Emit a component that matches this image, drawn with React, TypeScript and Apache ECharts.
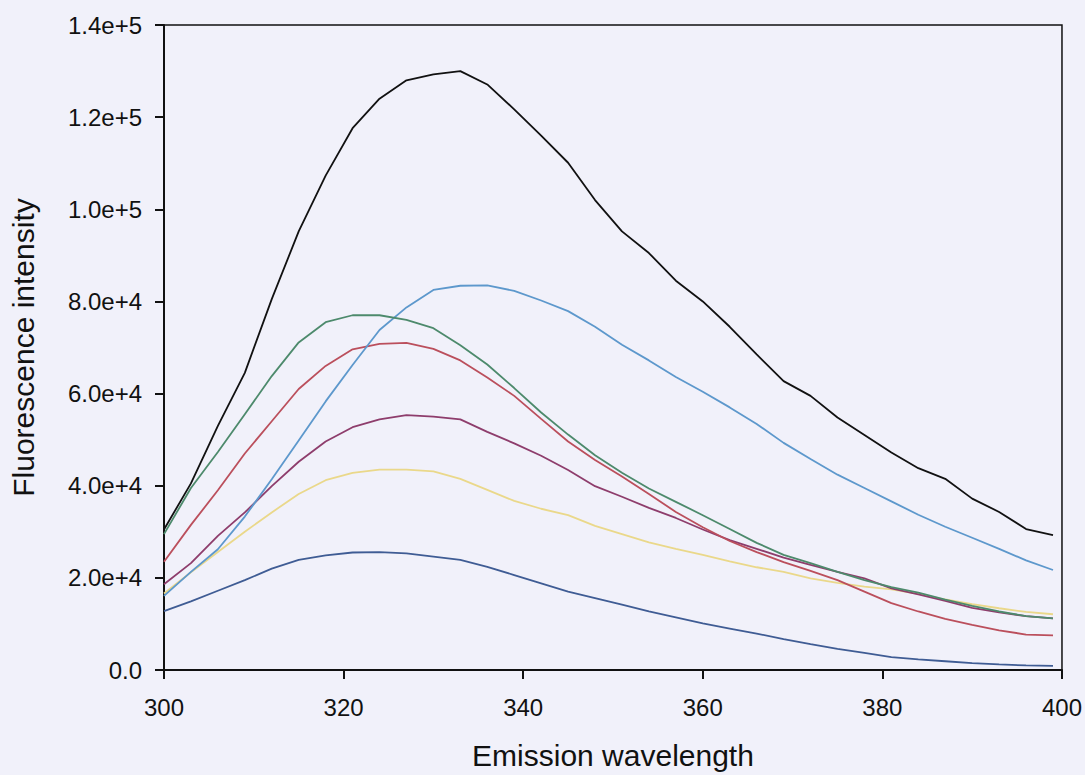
import React, { useEffect, useRef } from "react";
import * as echarts from "echarts";

// Emission wavelength (nm)
const wavelengths = [300, 303, 306, 309, 312, 315, 318, 321, 324, 327, 330, 333, 336, 339, 342, 345, 348, 351, 354, 357, 360, 363, 366, 369, 372, 375, 378, 381, 384, 387, 390, 393, 396, 399];

// Fluorescence intensity, in thousands of counts
const blackSeries = [30.5, 40.5, 53, 64.5, 80.5, 95.2, 107.3, 117.6, 124, 128, 129.3, 130, 127.1, 121.7, 116, 110.1, 102, 95.2, 90.5, 84.5, 80, 74.5, 68.5, 62.7, 59.5, 54.8, 51, 47.2, 43.8, 41.5, 37.2, 34.3, 30.6, 29.3];
const lightBlueSeries = [16.1, 21.3, 26.2, 33.3, 41.4, 49.8, 58.3, 66.2, 73.8, 78.7, 82.5, 83.4, 83.5, 82.3, 80.2, 77.9, 74.5, 70.6, 67.2, 63.6, 60.4, 57, 53.4, 49.3, 45.8, 42.4, 39.5, 36.6, 33.7, 31.1, 28.7, 26.3, 23.8, 21.7];
const greenSeries = [29.5, 39.5, 47.3, 55.5, 63.8, 71.1, 75.5, 77, 77, 76, 74.2, 70.5, 66.3, 61.2, 55.9, 51.1, 46.6, 42.8, 39.4, 36.5, 33.6, 30.6, 27.6, 25, 23.2, 21.3, 19.5, 18, 16.8, 15.3, 13.9, 12.7, 11.7, 11.2];
const redSeries = [23.5, 31.5, 39, 47, 54, 61, 66, 69.6, 70.8, 71, 69.7, 67.2, 63.5, 59.5, 54.5, 49.6, 45.6, 42, 38.2, 34.3, 31, 28, 25.6, 23.4, 21.5, 19.5, 17, 14.5, 12.7, 11.1, 9.8, 8.6, 7.7, 7.5];
const magentaSeries = [18.6, 23.2, 29.1, 34.2, 39.9, 45.2, 49.6, 52.7, 54.4, 55.3, 55, 54.4, 51.7, 49.2, 46.5, 43.4, 39.9, 37.6, 35.2, 33, 30.5, 28.2, 26.3, 24.4, 22.8, 21.3, 19.9, 17.7, 16.4, 15, 13.5, 12.5, 11.7, 11.2];
const yellowSeries = [16.6, 21.2, 25.6, 30, 34.2, 38.2, 41.2, 42.8, 43.5, 43.5, 43.1, 41.5, 39.1, 36.7, 35, 33.6, 31.3, 29.5, 27.7, 26.3, 25, 23.6, 22.3, 21.3, 19.9, 18.9, 18.1, 17.5, 16.5, 15.3, 14.3, 13.4, 12.6, 12.1];
const darkBlueSeries = [12.8, 14.9, 17.2, 19.5, 22, 23.9, 24.9, 25.5, 25.6, 25.3, 24.6, 23.9, 22.4, 20.6, 18.8, 17, 15.6, 14.2, 12.7, 11.4, 10.1, 9, 7.9, 6.7, 5.6, 4.6, 3.7, 2.8, 2.3, 1.9, 1.5, 1.2, 1.0, 0.9];

const seriesList = [
  { name: "s7", values: darkBlueSeries, color: "#3f5c94" },
  { name: "s6", values: yellowSeries, color: "#ead88a" },
  { name: "s5", values: magentaSeries, color: "#8e3d6c" },
  { name: "s4", values: redSeries, color: "#bb4f5c" },
  { name: "s3", values: lightBlueSeries, color: "#5d98cc" },
  { name: "s2", values: greenSeries, color: "#4d8a6c" },
  { name: "s1", values: blackSeries, color: "#111111" },
];

const xTitle = "Emission wavelength";
const yTitle = "Fluorescence intensity";

function fmtY(v: number): string {
  if (v === 0) return "0.0";
  const e = Math.floor(Math.log10(v));
  const m = v / Math.pow(10, e);
  return `${m.toFixed(1)}e+${e}`;
}

export default function App() {
  const ref = useRef<HTMLDivElement>(null);
  useEffect(() => {
    if (!ref.current) return;
    const chart = echarts.init(ref.current, undefined, { renderer: "svg" });
    const font = "'Liberation Sans', Arial, sans-serif";
    chart.setOption({
      animation: false,
      backgroundColor: "#f1f1fa",
      grid: {
        left: 162,
        right: 23,
        top: 25,
        bottom: 104,
        show: true,
        borderColor: "#111",
        borderWidth: 1.5,
        backgroundColor: "transparent",
      },
      xAxis: {
        type: "value",
        min: 300,
        max: 400,
        interval: 20,
        name: xTitle,
        nameLocation: "middle",
        nameGap: 70,
        nameTextStyle: { fontFamily: font, fontSize: 30, color: "#111" },
        axisLine: { show: true, lineStyle: { color: "#111", width: 2 } },
        axisTick: { show: true, length: 9, lineStyle: { color: "#111", width: 2 } },
        axisLabel: { fontFamily: font, fontSize: 24, color: "#111", margin: 25 },
        splitLine: { show: false },
      },
      yAxis: {
        type: "value",
        min: 0,
        max: 140000,
        interval: 20000,
        name: yTitle,
        nameLocation: "middle",
        nameGap: 126,
        nameRotate: 90,
        nameTextStyle: { fontFamily: font, fontSize: 30, color: "#111" },
        axisLine: { show: true, lineStyle: { color: "#111", width: 2 } },
        axisTick: { show: true, length: 9, lineStyle: { color: "#111", width: 2 } },
        axisLabel: { fontFamily: font, fontSize: 24, color: "#111", margin: 22, formatter: fmtY },
        splitLine: { show: false },
      },
      series: seriesList.map((s) => ({
        name: s.name,
        type: "line",
        showSymbol: false,
        symbol: "none",
        lineStyle: { color: s.color, width: 1.8 },
        itemStyle: { color: s.color },
        data: wavelengths.map((w, i) => [w, s.values[i] * 1000]),
      })),
    });
    return () => chart.dispose();
  }, []);
  return (
    <div
      ref={ref}
      style={{ position: "fixed", left: 0, top: 0, width: 1085, height: 775, background: "#f1f1fa" }}
    />
  );
}
